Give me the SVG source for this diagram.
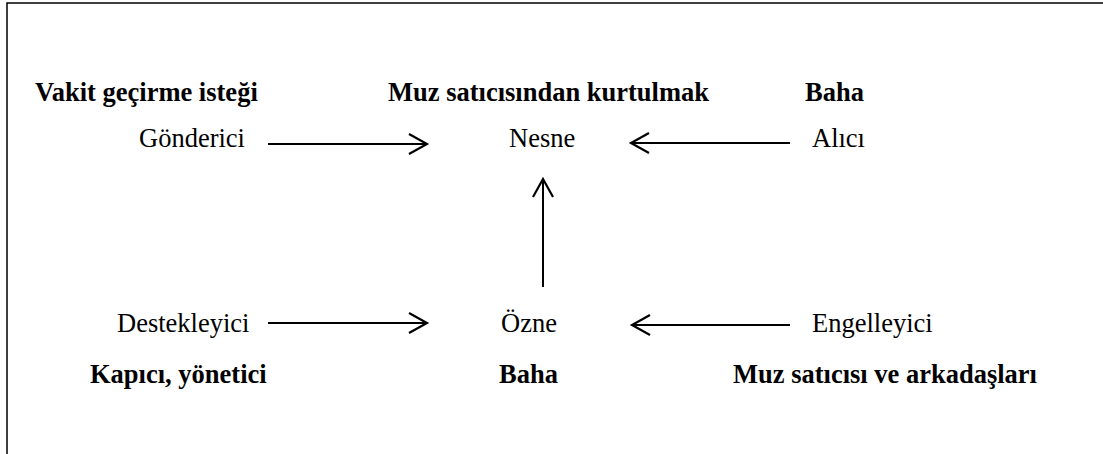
<svg xmlns="http://www.w3.org/2000/svg" width="1103" height="454" viewBox="0 0 1103 454">
  <style>
    text { font-family: "Liberation Serif", "Times New Roman", serif; font-size: 26.5px; fill: #000; }
    .b { font-weight: bold; }
    .conn line { stroke: #000; stroke-width: 2; fill: none; marker-end: url(#arr); }
    .frame { stroke: #000; stroke-width: 1.5; fill: none; }
  </style>
  <defs>
    <marker id="arr" markerUnits="userSpaceOnUse" markerWidth="24" markerHeight="26" refX="20" refY="12" orient="auto" viewBox="0 0 24 24">
      <path d="M2 2 L20 12 L2 22" fill="none" stroke="#000" stroke-width="2.2"/>
    </marker>
  </defs>
  <rect width="1103" height="454" fill="#fff"/>
  <path class="frame" d="M7 454 V3 H1103"/>

  <g id="gonderici">
    <text class="b" x="35" y="101">Vakit geçirme isteği</text>
    <text x="139" y="147">Gönderici</text>
  </g>
  <g id="nesne">
    <text class="b" x="388" y="101">Muz satıcısından kurtulmak</text>
    <text x="509" y="147">Nesne</text>
  </g>
  <g id="alici">
    <text class="b" x="805" y="101">Baha</text>
    <text x="812" y="147">Alıcı</text>
  </g>
  <g id="destekleyici">
    <text x="117" y="332">Destekleyici</text>
    <text class="b" x="90" y="383">Kapıcı, yönetici</text>
  </g>
  <g id="ozne">
    <text x="501" y="332">Özne</text>
    <text class="b" x="499" y="383">Baha</text>
  </g>
  <g id="engelleyici">
    <text x="812" y="332">Engelleyici</text>
    <text class="b" x="733" y="383">Muz satıcısı ve arkadaşları</text>
  </g>

  <g id="connectors" class="conn">
    <line x1="268" y1="144" x2="427" y2="144"/>
    <line x1="790" y1="143" x2="631" y2="143"/>
    <line x1="543" y1="287" x2="543" y2="179"/>
    <line x1="268" y1="323" x2="427" y2="323"/>
    <line x1="790" y1="325" x2="632" y2="325"/>
  </g>
</svg>
